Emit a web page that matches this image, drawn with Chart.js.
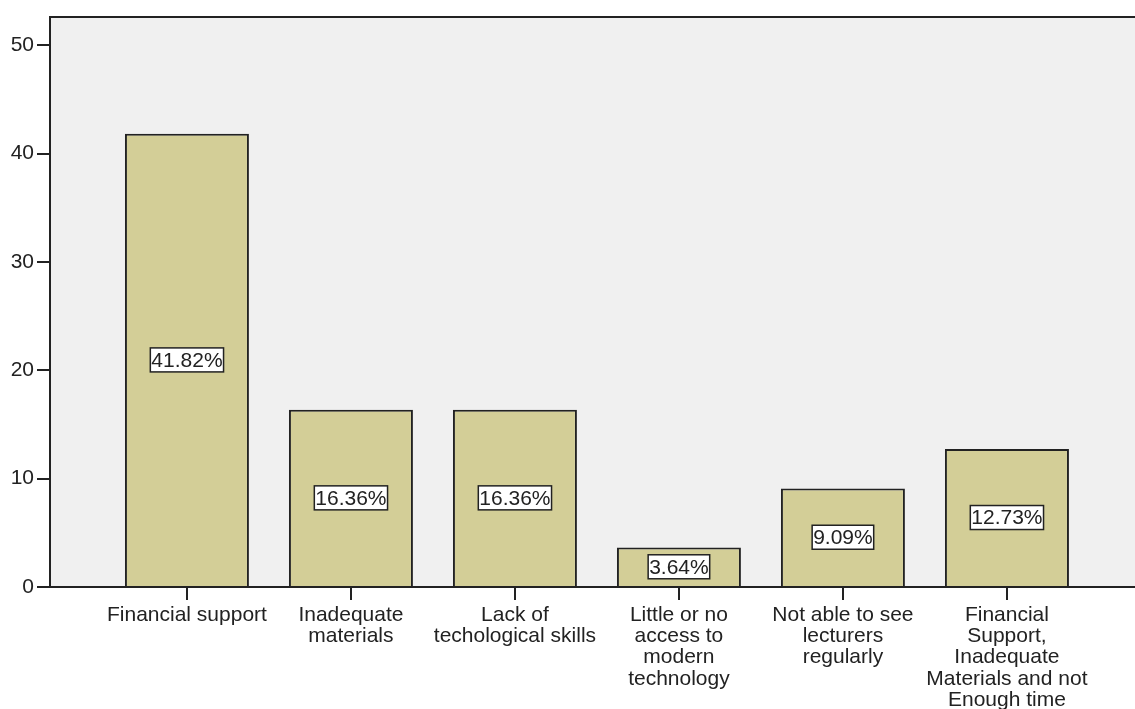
<!DOCTYPE html>
<html>
<head>
<meta charset="utf-8">
<script src="https://cdn.jsdelivr.net/npm/chart.js@4/dist/chart.umd.min.js"></script>
<style>
  html, body { margin: 0; padding: 0; background: #fff; overflow: hidden; }
  #myChart { display: block; }
</style>
</head>
<body>
<canvas id="myChart" width="1135" height="709"></canvas>
<script>
const categories = [
  ["Financial support"],
  ["Inadequate", "materials"],
  ["Lack of", "techological skills"],
  ["Little or no", "access to", "modern", "technology"],
  ["Not able to see", "lecturers", "regularly"],
  ["Financial", "Support,", "Inadequate", "Materials and not", "Enough time"],
];
const percentages = [41.82, 16.36, 16.36, 3.64, 9.09, 12.73];
const yTicks = [0, 10, 20, 30, 40, 50];

const inkColor = "#222222";
const fontFamily = "'Liberation Sans', Arial, sans-serif";

// grey plot area with a top frame line
const plotFrame = {
  id: "plotFrame",
  beforeDraw(chart) {
    const { ctx, chartArea: a } = chart;
    ctx.save();
    ctx.fillStyle = "#f0f0f0";
    ctx.fillRect(a.left, a.top, a.right - a.left, a.bottom - a.top);
    ctx.restore();
  },
  afterDraw(chart) {
    const { ctx, chartArea: a } = chart;
    ctx.save();
    ctx.strokeStyle = inkColor;
    ctx.lineWidth = 2;
    ctx.beginPath();
    ctx.moveTo(a.left - 1, a.top);
    ctx.lineTo(a.right, a.top);
    ctx.stroke();
    ctx.restore();
  },
};

// boxed percentage in the middle of every bar
const boxedLabels = {
  id: "boxedLabels",
  afterDatasetsDraw(chart) {
    const { ctx } = chart;
    const meta = chart.getDatasetMeta(0);
    ctx.save();
    ctx.font = "21px " + fontFamily;
    ctx.textAlign = "center";
    ctx.textBaseline = "middle";
    meta.data.forEach((bar, i) => {
      const text = percentages[i].toFixed(2) + "%";
      const w = ctx.measureText(text).width + 2;
      const h = 24;
      const cx = bar.x;
      const cy = (bar.y + bar.base) / 2;
      ctx.fillStyle = "#ffffff";
      ctx.fillRect(cx - w / 2, cy - h / 2, w, h);
      ctx.strokeStyle = inkColor;
      ctx.lineWidth = 1.5;
      ctx.strokeRect(cx - w / 2, cy - h / 2, w, h);
      ctx.fillStyle = inkColor;
      ctx.fillText(text, cx, cy + 1);
    });
    ctx.restore();
  },
};

const ctx = document.getElementById("myChart").getContext("2d");
new Chart(ctx, {
  type: "bar",
  data: {
    datasets: [
      {
        data: percentages.map((v, i) => ({ x: i, y: v })),
        backgroundColor: "#d3ce97",
        borderColor: inkColor,
        borderWidth: 2,
        barPercentage: 0.756,
        categoryPercentage: 1,
      },
    ],
  },
  options: {
    responsive: false,
    animation: false,
    layout: { padding: { top: 17, left: 0, right: 0, bottom: 0 } },
    plugins: {
      legend: { display: false },
      tooltip: { enabled: false },
    },
    scales: {
      x: {
        type: "linear",
        offset: false,
        min: -0.835,
        max: 5.781,
        afterBuildTicks: (scale) => {
          scale.ticks = categories.map((c, i) => ({ value: i }));
        },
        afterFit: (scale) => {
          scale.height = 122;
        },
        grid: {
          offset: false,
          drawOnChartArea: false,
          tickLength: 13,
          color: inkColor,
          lineWidth: 2,
        },
        border: { color: inkColor, width: 2 },
        ticks: {
          autoSkip: false,
          maxRotation: 0,
          padding: 4,
          color: inkColor,
          font: { family: fontFamily, size: 21, lineHeight: 1.02 },
          callback: (value) => categories[value],
        },
      },
      y: {
        min: 0,
        max: 52.6,
        afterBuildTicks: (scale) => {
          scale.ticks = yTicks.map((v) => ({ value: v }));
        },
        afterFit: (scale) => {
          scale.width = 50;
        },
        grid: {
          drawOnChartArea: false,
          tickLength: 13,
          color: inkColor,
          lineWidth: 2,
        },
        border: { color: inkColor, width: 2 },
        ticks: {
          padding: 3,
          color: inkColor,
          font: { family: fontFamily, size: 21 },
        },
      },
    },
  },
  plugins: [plotFrame, boxedLabels],
});
</script>
</body>
</html>
